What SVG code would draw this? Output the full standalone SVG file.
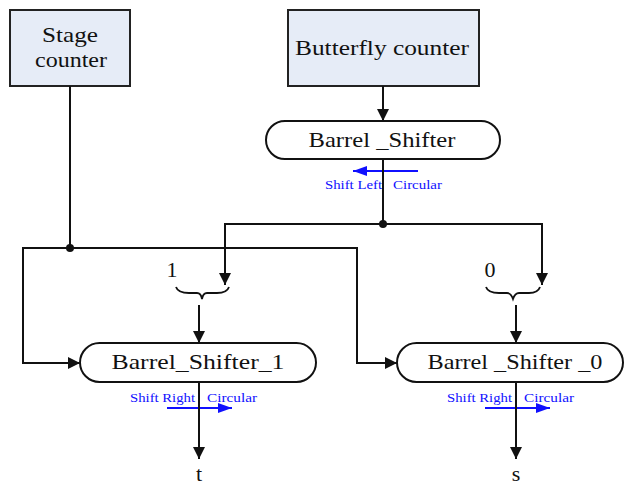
<svg xmlns="http://www.w3.org/2000/svg" width="625" height="487" viewBox="0 0 625 487">
<style>
.box{fill:#e6ecf7;stroke:#222;stroke-width:2}
.stad{fill:#fff;stroke:#111;stroke-width:2}
.lbl{font-family:"Liberation Serif","Times New Roman",serif;font-size:22px;fill:#111;text-anchor:middle}
.blue{font-family:"Liberation Serif","Times New Roman",serif;font-size:12px;fill:#1010ff}
.ln{fill:none;stroke:#111;stroke-width:2}
.bl{fill:none;stroke:#1010ff;stroke-width:2}
.brace{fill:none;stroke:#111;stroke-width:1.8}
</style>
<defs>
<marker id="ah" viewBox="0 0 12 12" refX="12" refY="6" markerWidth="12" markerHeight="12" markerUnits="userSpaceOnUse" orient="auto">
<path d="M0,0 L12,6 L0,12 Z" fill="#111"/>
</marker>
<marker id="bh" viewBox="0 0 14 10" refX="14" refY="5" markerWidth="14" markerHeight="10" markerUnits="userSpaceOnUse" orient="auto">
<path d="M0,0 L14,5 L0,10 Z" fill="#1010ff"/>
</marker>
</defs>
<g id="stage_counter">
<rect class="box" x="10" y="10" width="120" height="76"/>
<text class="lbl" x="70" y="42" font-size="21" textLength="56" lengthAdjust="spacingAndGlyphs">Stage</text>
<text class="lbl" x="71" y="67" font-size="21" textLength="72" lengthAdjust="spacingAndGlyphs">counter</text>
</g>
<g id="butterfly_counter">
<rect class="box" x="288" y="10" width="191" height="76"/>
<text class="lbl" x="382" y="55" textLength="174" lengthAdjust="spacingAndGlyphs">Butterfly counter</text>
</g>
<g id="barrel_shifter">
<rect class="stad" x="266" y="121" width="234" height="38" rx="19" ry="19"/>
<text class="lbl" x="382" y="147" textLength="147" lengthAdjust="spacingAndGlyphs">Barrel _Shifter</text>
</g>
<g id="barrel_shifter_1">
<rect class="stad" x="80" y="343" width="236" height="39" rx="19.5" ry="19.5"/>
<text class="lbl" x="198" y="369" textLength="173" lengthAdjust="spacingAndGlyphs">Barrel_Shifter_1</text>
</g>
<g id="barrel_shifter_0">
<rect class="stad" x="397" y="343" width="226" height="39" rx="19.5" ry="19.5"/>
<text class="lbl" x="515" y="369" textLength="175" lengthAdjust="spacingAndGlyphs">Barrel _Shifter _0</text>
</g>
<g id="brace_1">
<text class="lbl" x="172" y="277" font-size="20">1</text>
<path class="brace" d="M176,287 Q178,293 189,293 L197,293 Q201,293 202,299 Q203,293 207,293 L217,293 Q227,293 229,287"/>
</g>
<g id="brace_0">
<text class="lbl" x="490" y="277" font-size="20">0</text>
<path class="brace" d="M486,287 Q488,293 499,293 L507,293 Q511,293 513,299 Q515,293 519,293 L529,293 Q538,293 540,287"/>
</g>
<g id="outputs">
<text class="lbl" x="199" y="481">t</text>
<text class="lbl" x="516" y="481">s</text>
</g>
<g id="annotations">
<line class="bl" x1="418" y1="171" x2="353" y2="171" marker-end="url(#bh)"/>
<text class="blue" x="325" y="189" textLength="57" lengthAdjust="spacingAndGlyphs">Shift Left</text>
<text class="blue" x="393" y="189" textLength="49" lengthAdjust="spacingAndGlyphs">Circular</text>
<text class="blue" x="130" y="402" textLength="65" lengthAdjust="spacingAndGlyphs">Shift Right</text>
<text class="blue" x="207" y="402" textLength="50" lengthAdjust="spacingAndGlyphs">Circular</text>
<line class="bl" x1="167" y1="408" x2="232" y2="408" marker-end="url(#bh)"/>
<text class="blue" x="447" y="402" textLength="65" lengthAdjust="spacingAndGlyphs">Shift Right</text>
<text class="blue" x="524" y="402" textLength="50" lengthAdjust="spacingAndGlyphs">Circular</text>
<line class="bl" x1="485" y1="408" x2="550" y2="408" marker-end="url(#bh)"/>
</g>
<g id="connectors">
<line class="ln" x1="383" y1="86" x2="383" y2="121" marker-end="url(#ah)"/>
<line class="ln" x1="383" y1="159" x2="383" y2="224"/>
<polyline class="ln" points="225,285 225,224 542,224 542,285" marker-end="url(#ah)"/>
<line class="ln" x1="225" y1="230" x2="225" y2="285" marker-end="url(#ah)"/>
<circle cx="383" cy="224" r="4" fill="#111"/>
<line class="ln" x1="70" y1="86" x2="70" y2="248"/>
<polyline class="ln" points="80,363 23,363 23,248 357,248 357,363 397,363" marker-end="url(#ah)"/>
<line class="ln" x1="40" y1="363" x2="80" y2="363" marker-end="url(#ah)"/>
<circle cx="70" cy="248" r="4" fill="#111"/>
<line class="ln" x1="199" y1="305" x2="199" y2="343" marker-end="url(#ah)"/>
<line class="ln" x1="516" y1="305" x2="516" y2="343" marker-end="url(#ah)"/>
<line class="ln" x1="199" y1="382" x2="199" y2="459" marker-end="url(#ah)"/>
<line class="ln" x1="516" y1="382" x2="516" y2="459" marker-end="url(#ah)"/>
</g>
</svg>
